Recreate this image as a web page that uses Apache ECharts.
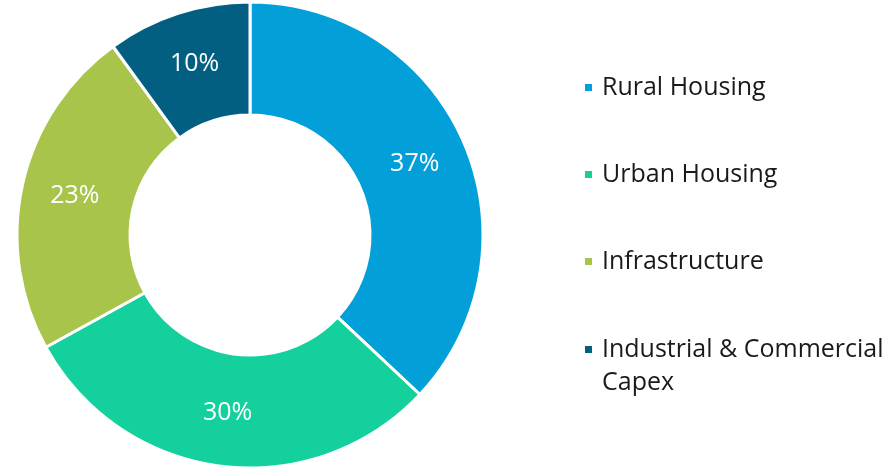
<!DOCTYPE html>
<html>
<head>
<meta charset="utf-8">
<script src="https://cdn.jsdelivr.net/npm/echarts@6/dist/echarts.min.js"></script>
<style>
  html, body { margin: 0; padding: 0; background: #fff; }
  #chart { width: 896px; height: 469px; }
</style>
</head>
<body>
<div id="chart"></div>
<script>
const categories = ["Rural Housing", "Urban Housing", "Infrastructure", "Industrial & Commercial Capex"];
const shares = [37, 30, 23, 10];
const colors = ["#039fd9", "#13d09c", "#a8c44b", "#035f82"];

const chart = echarts.init(document.getElementById("chart"));
const lineH = 33;

// shared legend look; the last entry sits in its own legend so its first line lines up with the marker
const legendBase = {
  orient: "vertical",
  left: 578,
  height: 400,
  padding: 5,
  itemWidth: 9,
  itemHeight: 9,
  itemGap: 54,
  icon: "rect",
  selectedMode: false,
  textStyle: {
    fontFamily: "Open Sans",
    fontSize: 25,
    color: "#1a1a1a",
    lineHeight: lineH,
    padding: [0, 0, 0, 4]
  }
};

const option = {
  animation: false,
  color: colors,
  legend: [
    {
      ...legendBase,
      top: 66,
      data: categories.slice(0, 3)
    },
    {
      ...legendBase,
      top: 295,
      // blank first line keeps the marker level with "Industrial"
      formatter: () => "\nIndustrial & Commercial\nCapex",
      data: categories.slice(3)
    }
  ],
  series: [
    {
      type: "pie",
      center: [250, 235],
      radius: [120, 233],
      startAngle: 90,
      clockwise: true,
      itemStyle: { borderColor: "#fff", borderWidth: 3 },
      label: {
        show: true,
        position: "inside",
        formatter: "{c}%",
        color: "#fff",
        fontFamily: "Open Sans",
        fontSize: 25
      },
      labelLine: { show: false },
      emphasis: { disabled: true },
      data: categories.map((c, i) => ({ name: c, value: shares[i] }))
    }
  ]
};

chart.setOption(option);
</script>
</body>
</html>
